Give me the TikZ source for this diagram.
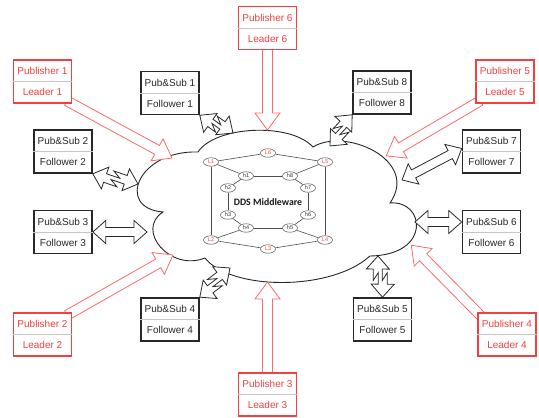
\documentclass[tikz,border=0pt]{standalone}
\usepackage{fontspec}
\setmainfont{Liberation Sans}
\newfontfamily\carlito{Carlito}
\usetikzlibrary{calc,shapes.geometric,backgrounds}

\definecolor{pubred}{RGB}{240,64,64}
\definecolor{arrowred}{RGB}{255,105,105}
\definecolor{subblack}{RGB}{40,40,40}

\tikzset{
  pics/oneway/.style={code={
    \draw[arrowred, fill=white, line width=0.8pt]
      (0,-5) -- ({#1-17},-5) -- ({#1-17},-12.5) -- (#1,0)
      -- ({#1-17},12.5) -- ({#1-17},5) -- (0,5) -- cycle;
  }},
  pics/twoway/.style args={#1/#2}{code={
    \draw[subblack, fill=white, line width=0.8pt]
      (0,0) -- (13,-11.5) -- (13,-4.5) -- ({#1/2+0.8*#2},-4.5)
      -- ({#1/2-0.8*#2},{#2-4.5}) -- ({#1-13},{#2-4.5}) -- ({#1-13},{#2-11.5})
      -- (#1,#2) -- ({#1-13},{#2+11.5}) -- ({#1-13},{#2+4.5})
      -- ({#1/2-0.8*#2},{#2+4.5}) -- ({#1/2+0.8*#2},4.5) -- (13,4.5) -- (13,11.5) -- cycle;
  }}
}

\begin{document}
\begin{tikzpicture}[x=1pt, y=1pt,
  every node/.style={font=\fontsize{10}{12}\selectfont},
  box/.style={draw, fill=white, line width=1.6pt, minimum width=58pt, minimum height=43pt, inner sep=0pt},
  divider/.style={gray!45, line width=0.6pt},
  cloudline/.style={black!85, line width=0.9pt, fill=white},
  leader/.style={ellipse, draw=black!60, fill=white, text=pubred, line width=0.6pt, inner sep=0pt,
    minimum width=15pt, minimum height=8.5pt, font=\fontsize{5.5}{5.5}\selectfont},
  host/.style={leader, text=black!80},
  link/.style={black!70, line width=0.6pt}]
  \useasboundingbox (0,0) rectangle (539,418);

  % Publishers and followers
  \foreach \nm/\pos/\txtA/\txtB/\col in {
      p1/{42.5,336.5}/Publisher 1/Leader 1/pubred,
      p2/{42.5,83.5}/Publisher 2/Leader 2/pubred,
      p3/{267.5,23.5}/Publisher 3/Leader 3/pubred,
      p4/{507,83.5}/Publisher 4/Leader 4/pubred,
      p5/{505,336.5}/Publisher 5/Leader 5/pubred,
      p6/{267.5,390}/Publisher 6/Leader 6/pubred,
      f1/{170,325}/Pub\&Sub 1/Follower 1/subblack,
      f2/{63,266.5}/Pub\&Sub 2/Follower 2/subblack,
      f3/{63,186}/Pub\&Sub 3/Follower 3/subblack,
      f4/{170,98.5}/Pub\&Sub 4/Follower 4/subblack,
      f5/{382.5,98.5}/Pub\&Sub 5/Follower 5/subblack,
      f6/{491.5,186}/Pub\&Sub 6/Follower 6/subblack,
      f7/{491.5,266.5}/Pub\&Sub 7/Follower 7/subblack,
      f8/{382,325.5}/Pub\&Sub 8/Follower 8/subblack} {
    \node[box, draw=\col] (\nm) at (\pos) {};
    \draw[divider] (\nm.west) -- (\nm.east);
    \node[text=\col] (\nm-a) at ([yshift=10.5pt]\nm.center) {\txtA};
    \node[text=\col] (\nm-b) at ([yshift=-10.5pt]\nm.center) {\txtB};
  }
  \coordinate (f6port) at ([yshift=10pt]f6.west);
  \coordinate (f7port) at ([yshift=3pt]f7.west);

  % Leaders and hosts
  \foreach \nm/\x/\y in {L1/211/256, L6/268/265, L5/325/256, L2/211/178, L3/268/169, L4/325/178}
    \node[leader] (\nm) at (\x,\y) {\nm};
  \foreach \nm/\x/\y in {h1/246/242, h8/290/242, h2/228/230, h7/308/230,
                         h3/228/203, h6/308/203, h4/246/190, h5/290/190}
    \node[host] (\nm) at (\x,\y) {\nm};
  \foreach \u/\v in {L1/L6, L6/L5, L1/L2, L5/L4, L2/L3, L3/L4, L1/h1, L5/h8, L2/h4, L4/h5,
                     h1/h2, h2/h3, h3/h4, h4/h5, h5/h6, h6/h7, h7/h8, h8/h1}
    \draw[link] (\u) -- (\v);
  \node[font=\carlito\bfseries\fontsize{9.8}{12}\selectfont, text=black!90] (dds) at (268,216) {DDS Middleware};

  % Where the arrows meet the cloud
  \coordinate (r1) at (172,260);
  \coordinate (r2) at (173,163);
  \coordinate (r3) at (267.5,136);
  \coordinate (r4) at (411,173);
  \coordinate (r5) at (386,262);
  \coordinate (r6) at (267.5,288);
  \coordinate (b1) at (233,285);
  \coordinate (b2) at (138,234);
  \coordinate (b3) at (147,186);
  \coordinate (b4) at (230,150);
  \coordinate (b5) at (378,162);
  \coordinate (b6) at (415,196);
  \coordinate (b7) at (402,238);
  \coordinate (b8) at (330,272);

  \begin{pgfonlayer}{background}
    % Cloud
    \draw[cloudline] (163,206) .. controls (115,210) and (138,268) .. (198,266)
      .. controls (215,292) and (290,296) .. (313,271)
      .. controls (345,291) and (420,258) .. (390,215)
      .. controls (425,218) and (432,163) .. (370,162)
      .. controls (330,126) and (230,128) .. (205,160)
      .. controls (170,146) and (135,188) .. cycle;

    % Publishers to the cloud
    \foreach \a/\b in {p1.south east/r1, p2.north east/r2, p3.north/r3,
                       p4.north west/r4, p5.south west/r5, p6.south/r6}
      \path let \p1 = ($(\a)!-6pt!(\b)$), \p2 = (\b),
                \n1 = {atan2(\y2-\y1,\x2-\x1)}, \n2 = {veclen(\x2-\x1,\y2-\y1)}
            in (\p1) pic[rotate=\n1] {oneway=\n2};

    % Followers and the cloud
    \foreach \a/\b/\jog in {f1.south east/b1/5, f2.south east/b2/5, f3.east/b3/0,
                            f4.north east/b4/5, f5.north/b5/5, f6port/b6/0,
                            f7port/b7/0, f8.south west/b8/5}
      \path let \p1 = ($(\b)-(\a)$),
                \n1 = {atan2(\y1,\x1)-asin(\jog/veclen(\x1,\y1))},
                \n2 = {sqrt(veclen(\x1,\y1)^2-\jog^2)}
            in (\a) pic[rotate=\n1] {twoway=\n2/\jog};
  \end{pgfonlayer}
\end{tikzpicture}
\end{document}
